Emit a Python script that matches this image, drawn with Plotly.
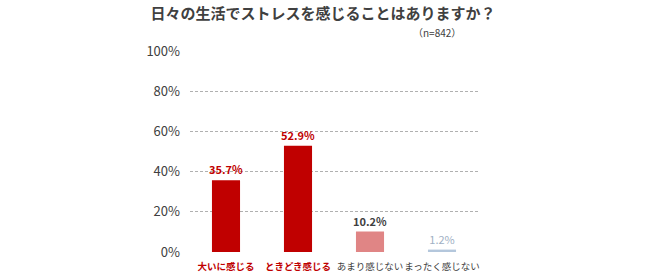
import plotly.graph_objects as go

categories = ["大いに感じる", "ときどき感じる", "あまり感じない", "まったく感じない"]
values = [35.7, 52.9, 10.2, 1.2]
bar_colors = ["#C00000", "#C00000", "#E08585", "#B4C7DC"]
label_colors = ["#C00000", "#C00000", "#404040", "#A0B0C4"]
label_bold = [True, True, True, False]
tick_colors = ["#C00000", "#C00000", "#404040", "#404040"]
tick_bold = [True, True, False, False]
y_ticks = [0, 20, 40, 60, 80, 100]
y_ticklabels = ["0%", "20%", "40%", "60%", "80%", "100%"]

texts = [("<b>%.1f%%</b>" if b else "%.1f%%") % v for v, b in zip(values, label_bold)]
ticktext = [
    ("<b><span style='color:%s'>%s</span></b>" if b else "<span style='color:%s'>%s</span>") % (c, t)
    for t, c, b in zip(categories, tick_colors, tick_bold)
]

FONT = "Noto Sans CJK JP"

fig = go.Figure(go.Bar(
    x=categories, y=values,
    marker=dict(color=bar_colors, line=dict(width=0)),
    text=texts, textposition="outside", cliponaxis=False, constraintext="none",
    textfont=dict(color=label_colors, size=11, family=FONT),
))

fig.update_layout(
    width=650, height=280,
    margin=dict(l=190, r=172, t=51, b=28, autoexpand=False),
    paper_bgcolor="white", plot_bgcolor="white",
    bargap=0.61,
    showlegend=False,
    font=dict(family=FONT, color="#404040"),
    title=dict(text="<b>日々の生活でストレスを感じることはありますか？</b>",
               x=0.497, xanchor="center", y=0.952, yanchor="middle",
               font=dict(size=15, color="#404040", family=FONT)),
    annotations=[dict(text="（n=842）", showarrow=False,
                      xref="paper", yref="paper", x=(463 - 190) / 288, y=(252 - 32) / 201,
                      xanchor="right", yanchor="middle",
                      font=dict(size=10, color="#404040", family=FONT))],
)
fig.update_xaxes(tickmode="array", tickvals=categories, ticktext=ticktext, tickangle=0,
                 automargin=False, ticklabelstandoff=7,
                 tickfont=dict(size=9.5, family=FONT), showgrid=False, showline=False, ticks="")
fig.update_yaxes(range=[0, 100], tickmode="array", tickvals=y_ticks, ticktext=y_ticklabels,
                 automargin=False,
                 showgrid=True, gridcolor="#B0B0B0", griddash="3px,2px", gridwidth=1,
                 zeroline=False, tickfont=dict(size=13, color="#404040", family=FONT),
                 ticklabelstandoff=9)

fig.write_html("out.html")
